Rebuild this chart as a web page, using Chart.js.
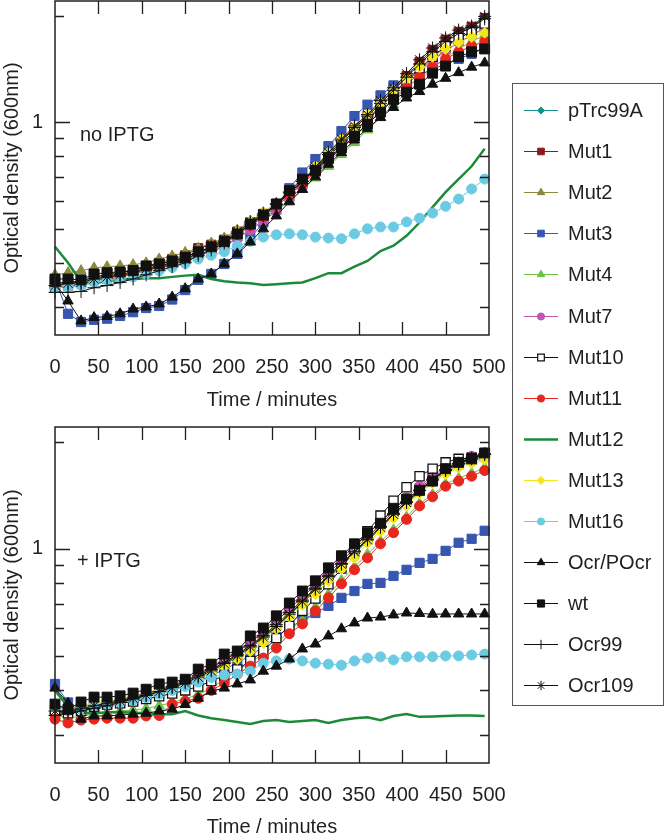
<!DOCTYPE html>
<html>
<head>
<meta charset="utf-8">
<title>Growth curves</title>
<script src="https://cdn.jsdelivr.net/npm/chart.js"></script>
<style>
body { margin: 0; background: #fff; font-family: "Liberation Sans", Arial, Helvetica, sans-serif; }
#wrap { position: relative; width: 666px; height: 840px; overflow: hidden; }
canvas.panel { position: absolute; left: 0; }
#legend { position: absolute; left: 512px; top: 83px; width: 152px; height: 623px; border: 1px solid #555; box-sizing: border-box; }
.item { position: absolute; left: 0; height: 24px; width: 150px; }
.item canvas { position: absolute; left: 11px; top: 0; }
.item span { position: absolute; left: 55px; top: 0; line-height: 24px; font-size: 20px; color: #231f20; white-space: nowrap; }
</style>
</head>
<body>
<div id="wrap">
  <canvas id="topPanel" class="panel" width="666" height="420" style="top:-7px"></canvas>
  <canvas id="bottomPanel" class="panel" width="666" height="420" style="top:419px"></canvas>
  <div id="legend"></div>
</div>
<script>
// sampling times (minutes) and tick values
var times = [0,15,30,45,60,75,90,105,120,135,150,165,180,195,210,225,240,255,270,285,300,315,330,345,360,375,390,405,420,435,450,465,480,495];
var xTicks = [50,100,150,200,250,300,350,400,450];
var yTicks = [0.3,0.4,0.5,0.6,0.7,0.8,0.9,1,2];

// no IPTG
var pTrcTop = [0.34,0.342,0.345,0.352,0.358,0.365,0.372,0.38,0.388,0.397,0.408,0.42,0.435,0.452,0.478,0.51,0.54,0.578,0.622,0.67,0.725,0.79,0.86,0.935,1.01,1.10,1.20,1.30,1.41,1.52,1.63,1.72,1.81,1.92];
var mut1Top = [0.34,0.345,0.35,0.36,0.368,0.375,0.383,0.392,0.40,0.41,0.42,0.44,0.45,0.465,0.49,0.52,0.55,0.585,0.63,0.675,0.735,0.805,0.88,0.96,1.04,1.13,1.24,1.35,1.48,1.60,1.71,1.80,1.86,1.97];
var mut2Top = [0.37,0.375,0.38,0.387,0.39,0.392,0.395,0.40,0.41,0.418,0.428,0.44,0.455,0.47,0.495,0.525,0.555,0.59,0.635,0.68,0.735,0.80,0.87,0.945,1.02,1.10,1.20,1.30,1.40,1.50,1.60,1.68,1.76,1.85];
var mut3Top = [0.36,0.287,0.272,0.276,0.278,0.283,0.29,0.298,0.302,0.315,0.335,0.358,0.372,0.397,0.424,0.47,0.52,0.58,0.65,0.72,0.786,0.855,0.943,1.04,1.12,1.19,1.27,1.31,1.36,1.41,1.46,1.51,1.56,1.62];
var mut4Top = [0.35,0.352,0.355,0.362,0.367,0.372,0.378,0.385,0.39,0.398,0.408,0.42,0.432,0.447,0.47,0.497,0.525,0.56,0.6,0.645,0.695,0.75,0.81,0.875,0.95,1.03,1.12,1.21,1.31,1.42,1.52,1.61,1.69,1.76];
var mut7Top = [0.345,0.348,0.35,0.358,0.363,0.368,0.374,0.382,0.388,0.395,0.405,0.418,0.43,0.445,0.468,0.495,0.525,0.56,0.605,0.655,0.71,0.77,0.835,0.91,0.985,1.07,1.17,1.27,1.38,1.49,1.59,1.68,1.76,1.84];
var mut10Top = [0.35,0.352,0.355,0.365,0.37,0.375,0.38,0.39,0.396,0.404,0.414,0.428,0.442,0.458,0.483,0.515,0.545,0.585,0.632,0.68,0.735,0.8,0.87,0.945,1.02,1.11,1.21,1.31,1.42,1.53,1.64,1.73,1.80,1.90];
var mut11Top = [0.34,0.343,0.347,0.356,0.362,0.368,0.375,0.383,0.39,0.40,0.412,0.425,0.44,0.456,0.48,0.51,0.54,0.578,0.622,0.67,0.72,0.78,0.845,0.915,0.99,1.07,1.16,1.25,1.34,1.43,1.51,1.58,1.64,1.69];
var mut12Top = [0.444,0.40,0.353,0.35,0.355,0.358,0.36,0.362,0.362,0.365,0.368,0.37,0.36,0.355,0.352,0.35,0.346,0.348,0.35,0.352,0.362,0.374,0.374,0.39,0.405,0.432,0.447,0.477,0.52,0.575,0.634,0.69,0.75,0.84];
var mut13Top = [0.345,0.348,0.352,0.36,0.366,0.372,0.378,0.386,0.393,0.402,0.412,0.426,0.442,0.46,0.49,0.522,0.552,0.59,0.637,0.685,0.75,0.82,0.895,0.97,1.05,1.13,1.23,1.33,1.43,1.53,1.61,1.68,1.74,1.79];
var mut16Top = [0.34,0.342,0.345,0.352,0.356,0.36,0.365,0.372,0.38,0.388,0.398,0.41,0.42,0.43,0.447,0.46,0.473,0.48,0.483,0.48,0.473,0.47,0.468,0.483,0.499,0.505,0.505,0.522,0.535,0.553,0.578,0.606,0.647,0.69];
var ocrTop = [0.35,0.312,0.274,0.28,0.282,0.287,0.296,0.30,0.306,0.32,0.338,0.36,0.372,0.397,0.424,0.458,0.499,0.543,0.595,0.645,0.70,0.76,0.82,0.89,0.96,1.03,1.10,1.17,1.22,1.28,1.33,1.38,1.43,1.47];
var wtTop = [0.36,0.36,0.358,0.372,0.375,0.377,0.38,0.392,0.397,0.405,0.415,0.43,0.444,0.46,0.483,0.515,0.546,0.587,0.64,0.69,0.73,0.79,0.845,0.913,0.987,1.067,1.16,1.215,1.28,1.375,1.44,1.53,1.58,1.61];
var ocr99Top = [0.33,0.33,0.332,0.34,0.345,0.352,0.36,0.37,0.38,0.39,0.40,0.42,0.435,0.455,0.485,0.515,0.545,0.585,0.63,0.68,0.74,0.81,0.885,0.965,1.04,1.13,1.23,1.34,1.46,1.58,1.69,1.78,1.85,1.96];
var ocr109Top = [0.345,0.35,0.352,0.36,0.365,0.37,0.378,0.385,0.392,0.40,0.41,0.425,0.444,0.46,0.489,0.522,0.55,0.587,0.634,0.68,0.746,0.82,0.895,0.975,1.05,1.15,1.25,1.37,1.50,1.62,1.73,1.82,1.87,1.99];

// + IPTG
var pTrcBot = [0.35,0.348,0.352,0.36,0.365,0.371,0.378,0.386,0.395,0.405,0.418,0.435,0.452,0.473,0.497,0.525,0.56,0.6,0.65,0.705,0.76,0.825,0.895,0.97,1.05,1.14,1.24,1.34,1.45,1.56,1.66,1.73,1.78,1.82];
var mut1Bot = [0.345,0.345,0.35,0.358,0.365,0.372,0.38,0.389,0.4,0.412,0.426,0.444,0.463,0.486,0.512,0.545,0.582,0.625,0.678,0.733,0.79,0.855,0.925,1.0,1.08,1.17,1.27,1.37,1.48,1.58,1.68,1.75,1.81,1.85];
var mut2Bot = [0.36,0.355,0.36,0.368,0.372,0.377,0.385,0.393,0.402,0.412,0.424,0.44,0.457,0.478,0.502,0.532,0.567,0.607,0.655,0.71,0.765,0.83,0.9,0.975,1.055,1.14,1.24,1.34,1.44,1.54,1.64,1.71,1.76,1.80];
var mut3Bot = [0.417,0.37,0.355,0.36,0.365,0.37,0.376,0.383,0.392,0.402,0.413,0.425,0.44,0.458,0.478,0.502,0.53,0.565,0.6,0.63,0.66,0.691,0.728,0.761,0.797,0.802,0.839,0.873,0.913,0.937,0.987,1.04,1.067,1.124];
var mut4Bot = [0.34,0.335,0.338,0.343,0.347,0.35,0.352,0.356,0.362,0.37,0.378,0.39,0.405,0.43,0.455,0.48,0.505,0.54,0.588,0.63,0.685,0.745,0.815,0.89,0.965,1.05,1.13,1.23,1.34,1.42,1.52,1.58,1.63,1.69];
var mut7Bot = [0.345,0.345,0.35,0.358,0.363,0.37,0.377,0.386,0.397,0.41,0.425,0.445,0.465,0.49,0.515,0.55,0.59,0.635,0.69,0.745,0.80,0.87,0.94,1.02,1.10,1.19,1.29,1.39,1.50,1.60,1.70,1.77,1.82,1.86];
var mut10Bot = [0.35,0.345,0.35,0.36,0.365,0.368,0.372,0.378,0.385,0.392,0.40,0.41,0.425,0.44,0.458,0.484,0.516,0.561,0.607,0.669,0.725,0.795,0.88,1.0,1.12,1.24,1.365,1.49,1.60,1.68,1.75,1.79,1.80,1.83];
var mut11Bot = [0.332,0.324,0.33,0.332,0.334,0.334,0.334,0.339,0.34,0.366,0.373,0.38,0.40,0.419,0.444,0.468,0.493,0.526,0.577,0.615,0.669,0.728,0.797,0.873,0.943,1.033,1.11,1.21,1.32,1.40,1.50,1.55,1.60,1.66];
var mut12Bot = [0.40,0.36,0.345,0.345,0.347,0.348,0.346,0.345,0.343,0.343,0.35,0.34,0.334,0.33,0.326,0.322,0.328,0.33,0.326,0.328,0.33,0.324,0.33,0.334,0.336,0.33,0.339,0.343,0.337,0.338,0.339,0.34,0.34,0.339];
var mut13Bot = [0.355,0.35,0.36,0.368,0.372,0.376,0.383,0.39,0.398,0.406,0.416,0.43,0.447,0.466,0.49,0.515,0.544,0.596,0.645,0.696,0.747,0.813,0.878,0.943,1.04,1.12,1.22,1.32,1.43,1.53,1.62,1.69,1.74,1.78];
var mut16Bot = [0.36,0.35,0.355,0.362,0.366,0.37,0.375,0.382,0.39,0.4,0.41,0.422,0.435,0.442,0.444,0.453,0.477,0.484,0.49,0.484,0.477,0.474,0.471,0.484,0.493,0.497,0.487,0.497,0.497,0.497,0.5,0.5,0.503,0.506];
var ocrBot = [0.406,0.368,0.332,0.339,0.339,0.341,0.343,0.345,0.35,0.354,0.365,0.38,0.398,0.406,0.417,0.428,0.453,0.468,0.49,0.523,0.54,0.569,0.596,0.619,0.639,0.643,0.652,0.66,0.658,0.655,0.656,0.656,0.656,0.656];
var wtBot = [0.366,0.354,0.371,0.383,0.383,0.386,0.393,0.403,0.417,0.422,0.43,0.459,0.474,0.506,0.516,0.569,0.599,0.648,0.704,0.761,0.813,0.884,0.956,1.033,1.11,1.18,1.30,1.38,1.46,1.55,1.68,1.75,1.79,1.86];
var ocr99Bot = [0.34,0.345,0.35,0.356,0.362,0.37,0.378,0.387,0.397,0.41,0.423,0.44,0.458,0.48,0.505,0.535,0.57,0.612,0.662,0.717,0.775,0.84,0.91,0.985,1.065,1.155,1.255,1.355,1.46,1.56,1.66,1.73,1.79,1.84];
var ocr109Bot = [0.35,0.35,0.355,0.362,0.368,0.374,0.38,0.388,0.397,0.407,0.42,0.436,0.454,0.476,0.5,0.53,0.565,0.605,0.655,0.71,0.77,0.835,0.905,0.98,1.06,1.15,1.25,1.35,1.46,1.57,1.67,1.74,1.80,1.85];

// legend order, colours and marker shapes
var series = [
  {name: 'pTrc99A',  color: '#15918f', style: 'rectRot',  r: 5,   top: pTrcTop,  bot: pTrcBot},
  {name: 'Mut1',     color: '#8c1a1c', style: 'rect',     r: 6.5, top: mut1Top,  bot: mut1Bot},
  {name: 'Mut2',     color: '#8a8a3c', style: 'triangle', r: 6,   top: mut2Top,  bot: mut2Bot},
  {name: 'Mut3',     color: '#3656b0', style: 'rect',     r: 6.5, top: mut3Top,  bot: mut3Bot},
  {name: 'Mut4',     color: '#6cc04a', style: 'triangle', r: 6,   top: mut4Top,  bot: mut4Bot},
  {name: 'Mut7',     color: '#c056b4', style: 'circle',   r: 5,   top: mut7Top,  bot: mut7Bot},
  {name: 'Mut10',    color: '#111111', style: 'rect',     r: 6.5, fill: '#ffffff', top: mut10Top, bot: mut10Bot},
  {name: 'Mut11',    color: '#e8261e', style: 'circle',   r: 5,   top: mut11Top, bot: mut11Bot},
  {name: 'Mut12',    color: '#1d8a3a', style: false,      r: 0,   top: mut12Top, bot: mut12Bot},
  {name: 'Mut13',    color: '#f2e51a', style: 'rectRot',  r: 5.5, top: mut13Top, bot: mut13Bot},
  {name: 'Mut16',    color: '#6ccbe2', style: 'circle',   r: 5,   top: mut16Top, bot: mut16Bot},
  {name: 'Ocr/POcr', color: '#111111', style: 'triangle', r: 6,   top: ocrTop,   bot: ocrBot},
  {name: 'wt',       color: '#111111', style: 'rect',     r: 7,   top: wtTop,    bot: wtBot},
  {name: 'Ocr99',    color: '#111111', style: 'cross',    r: 6.5, top: ocr99Top, bot: ocr99Bot},
  {name: 'Ocr109',   color: '#111111', style: 'star',     r: 6.5, top: ocr109Top, bot: ocr109Bot}
];

Chart.defaults.font.family = '"Liberation Sans", Arial, Helvetica, sans-serif';
Chart.defaults.color = '#231f20';

// frame with inward ticks + panel label
var framePlugin = {
  id: 'frame',
  afterDraw: function(chart) {
    var ctx = chart.ctx, a = chart.chartArea, x = chart.scales.x, y = chart.scales.y;
    ctx.save();
    ctx.strokeStyle = '#231f20';
    ctx.lineWidth = 1.5;
    ctx.strokeRect(a.left, a.top, a.right - a.left, a.bottom - a.top);
    ctx.lineWidth = 1.3;
    ctx.beginPath();
    xTicks.forEach(function(v) {
      var px = Math.round(x.getPixelForValue(v)) + 0.5;
      ctx.moveTo(px, a.bottom); ctx.lineTo(px, a.bottom - 13);
      ctx.moveTo(px, a.top); ctx.lineTo(px, a.top + 13);
    });
    yTicks.forEach(function(v) {
      var py = Math.round(y.getPixelForValue(v)) + 0.5;
      var len = v === 1 ? 15 : 9;
      ctx.moveTo(a.left, py); ctx.lineTo(a.left + len, py);
      ctx.moveTo(a.right, py); ctx.lineTo(a.right - len, py);
    });
    ctx.stroke();
    ctx.fillStyle = '#231f20';
    ctx.font = '20px "Liberation Sans", Arial, sans-serif';
    ctx.textBaseline = 'middle';
    var o = chart.options.plugins.frame;
    ctx.fillText(o.label, a.left + o.dx, y.getPixelForValue(1) + o.dy);
    ctx.restore();
  }
};

function makePanel(id, key, label, padTop, xh, titlePad, dx) {
  var sets = series.map(function(s, i) {
    return {
      label: s.name,
      data: times.map(function(t, k) { return {x: t, y: s[key][k]}; }),
      borderColor: s.color,
      backgroundColor: s.fill || s.color,
      borderWidth: s.r ? 1 : 2.5,
      pointStyle: s.style,
      pointRadius: s.r,
      pointBorderColor: s.color,
      pointBackgroundColor: s.fill || s.color,
      pointBorderWidth: s.fill ? 1.3 : 1,
      tension: 0,
      clip: false,
      order: series.length - i
    };
  });
  return new Chart(document.getElementById(id), {
    type: 'line',
    data: {datasets: sets},
    plugins: [framePlugin],
    options: {
      responsive: false,
      animation: false,
      devicePixelRatio: 1,
      layout: {padding: {left: 0, right: 177, top: padTop, bottom: 0}},
      plugins: {
        legend: {display: false},
        tooltip: {enabled: false},
        frame: {label: label, dx: dx, dy: 13}
      },
      scales: {
        x: {
          type: 'linear', min: 0, max: 500,
          afterFit: function(s) { s.height = xh; s.paddingLeft = 0; s.paddingRight = 0; },
          grid: {display: false, drawTicks: false},
          border: {display: false},
          ticks: {stepSize: 50, padding: 20, maxRotation: 0, autoSkip: false, font: {size: 20}},
          title: {display: true, text: 'Time / minutes', font: {size: 20}, padding: {top: 0, bottom: titlePad}}
        },
        y: {
          type: 'logarithmic', min: 0.25, max: 2.2,
          afterFit: function(s) { s.width = 55; s.paddingTop = 0; s.paddingBottom = 0; },
          afterBuildTicks: function(s) { s.ticks = yTicks.map(function(v) { return {value: v}; }); },
          grid: {display: false, drawTicks: false},
          border: {display: false},
          ticks: {padding: 12, font: {size: 20}, autoSkip: false,
                  callback: function(v) { return v === 1 ? '1' : ''; }},
          title: {display: true, text: 'Optical density (600nm)', font: {size: 20}, padding: 0}
        }
      }
    }
  });
}

makePanel('topPanel', 'top', 'no IPTG', 8, 78, 1, 25);
makePanel('bottomPanel', 'bot', '+ IPTG', 8, 76, 0, 22);

// legend box spanning both panels
var legendBox = document.getElementById('legend');
series.forEach(function(s, i) {
  var row = document.createElement('div');
  row.className = 'item';
  row.style.top = (26 + 41.1 * i - 12) + 'px';
  var c = document.createElement('canvas');
  c.width = 34; c.height = 24;
  var g = c.getContext('2d');
  g.strokeStyle = s.color;
  g.lineWidth = s.r ? 1.2 : 2.5;
  g.beginPath(); g.moveTo(0, 12.5); g.lineTo(34, 12.5); g.stroke();
  if (s.r) {
    g.fillStyle = s.fill || s.color;
    g.lineWidth = s.fill ? 1.2 : 1;
    Chart.helpers.drawPoint(g, {pointStyle: s.style, radius: s.r * 0.72, borderWidth: 1, rotation: 0}, 17, 12.5);
  }
  var t = document.createElement('span');
  t.textContent = s.name;
  row.appendChild(c);
  row.appendChild(t);
  legendBox.appendChild(row);
});
</script>
</body>
</html>
